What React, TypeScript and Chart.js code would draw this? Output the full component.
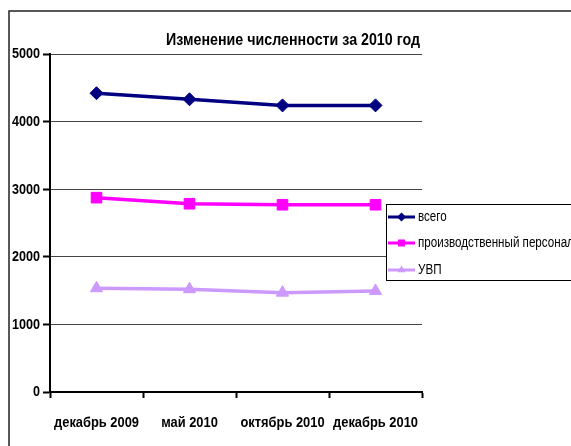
import React, { useEffect, useRef } from "react";
import { Chart, registerables } from "chart.js";

Chart.register(...registerables);

const categories = ["декабрь 2009", "май 2010", "октябрь 2010", "декабрь 2010"];
const totalValues = [4420, 4330, 4240, 4240];
const productionValues = [2875, 2785, 2770, 2770];
const uvpValues = [1535, 1520, 1470, 1495];
const seriesNames = ["всего", "производственный персонал", "УВП"];
const titleText = "Изменение численности за 2010 год";

const FONT = "'Liberation Sans', Arial, sans-serif";
const colors = ["#000080", "#FF00FF", "#CC99FF"];
const styles = ["rectRot", "rect", "triangle"];

function condensed(ctx: any, text: string, x: number, y: number, font: string, sx: number, align: string, baseline: string) {
  ctx.save();
  ctx.font = font;
  ctx.fillStyle = "#000";
  ctx.textAlign = align;
  ctx.textBaseline = baseline;
  ctx.translate(x, y);
  ctx.scale(sx, 1);
  ctx.fillText(text, 0, 0);
  ctx.restore();
}

const decorPlugin = {
  id: "decor",
  beforeDraw(chart: any) {
    const ctx = chart.ctx;
    ctx.save();
    ctx.fillStyle = "#ffffff";
    ctx.fillRect(0, 0, chart.width, chart.height);
    ctx.restore();
  },
  afterDraw(chart: any) {
    const ctx = chart.ctx;
    ctx.save();
    // outer frame
    ctx.strokeStyle = "#222";
    ctx.lineWidth = 1.5;
    ctx.beginPath();
    ctx.moveTo(9, chart.height + 5);
    ctx.lineTo(9, 11);
    ctx.lineTo(chart.width + 5, 11);
    ctx.stroke();
    ctx.restore();
    // title
    condensed(ctx, titleText, 293, 44.5, `bold 16px ${FONT}`, 0.89, "center", "alphabetic");
    // axis labels
    const ys = chart.scales.y;
    ys.ticks.forEach((t: any) => {
      condensed(ctx, String(t.value), 40, ys.getPixelForValue(t.value) + 0.5, `bold 14px ${FONT}`, 0.9, "right", "middle");
    });
    const xs = chart.scales.x;
    xs.ticks.forEach((t: any, i: number) => {
      condensed(ctx, categories[i], xs.getPixelForTick(i), 423, `bold 14px ${FONT}`, 0.92, "center", "middle");
    });
    // legend
    ctx.save();
    const lx = 386.5, ly = 204.5;
    ctx.fillStyle = "#fff";
    ctx.fillRect(lx, ly, 200, 76);
    ctx.strokeStyle = "#000";
    ctx.lineWidth = 1;
    ctx.strokeRect(lx, ly, 200, 76);
    const rows = [217, 243, 270];
    chart.data.datasets.forEach((ds: any, i: number) => {
      const y = rows[i];
      ctx.strokeStyle = ds.borderColor;
      ctx.lineWidth = 3;
      ctx.beginPath();
      ctx.moveTo(388, y);
      ctx.lineTo(415, y);
      ctx.stroke();
      ctx.fillStyle = ds.borderColor;
      const r = 4.5;
      ctx.beginPath();
      if (ds.pointStyle === "rectRot") {
        ctx.moveTo(401.5 - r, y);
        ctx.lineTo(401.5, y - r);
        ctx.lineTo(401.5 + r, y);
        ctx.lineTo(401.5, y + r);
      } else if (ds.pointStyle === "rect") {
        ctx.rect(401.5 - 3.5, y - 3.5, 7, 7);
      } else {
        ctx.moveTo(401.5, y - r);
        ctx.lineTo(401.5 + r * 0.87, y + r * 0.5);
        ctx.lineTo(401.5 - r * 0.87, y + r * 0.5);
      }
      ctx.closePath();
      ctx.fill();
      condensed(ctx, seriesNames[i], 418, y + 0.5, `14px ${FONT}`, 0.83, "left", "middle");
    });
    ctx.restore();
  },
};

export default function App() {
  const ref = useRef<HTMLCanvasElement | null>(null);
  useEffect(() => {
    if (!ref.current) return;
    const values = [totalValues, productionValues, uvpValues];
    const chart = new Chart(ref.current, {
      type: "line",
      data: {
        labels: categories,
        datasets: values.map((v, i) => ({
          label: seriesNames[i],
          data: v,
          borderColor: colors[i],
          backgroundColor: colors[i],
          pointBackgroundColor: colors[i],
          pointBorderColor: colors[i],
          pointStyle: styles[i] as any,
          pointRadius: i === 0 ? 6.5 : i === 1 ? 7.5 : 7,
          pointBorderWidth: 1,
          borderWidth: 3.5,
          tension: 0,
          fill: false,
        })),
      },
      options: {
        responsive: false,
        animation: false,
        devicePixelRatio: 1,
        layout: { padding: { top: 54, right: 149, left: 0, bottom: 0 } },
        plugins: {
          legend: { display: false },
          title: { display: false },
          tooltip: { enabled: false },
        },
        scales: {
          x: {
            type: "category",
            offset: true,
            grid: {
              offset: true,
              drawOnChartArea: false,
              drawTicks: true,
              tickLength: 6,
              tickColor: "#000",
              tickWidth: 2,
            },
            border: { color: "#000", width: 2 },
            ticks: {
              color: "rgba(0,0,0,0)",
              font: { family: FONT, size: 14, weight: "bold" },
              padding: 16,
              maxRotation: 0,
              autoSkip: false,
            },
            afterFit: (s: any) => {
              s.height = 54;
            },
          },
          y: {
            min: 0,
            max: 5000,
            ticks: {
              stepSize: 1000,
              color: "rgba(0,0,0,0)",
              font: { family: FONT, size: 14, weight: "bold" },
              padding: 4,
              callback: (v: any) => String(v),
            },
            grid: {
              color: "#444",
              lineWidth: 1,
              tickLength: 7,
              tickColor: "#000",
              tickWidth: 2,
            },
            border: { color: "#000", width: 2 },
            afterFit: (s: any) => {
              s.width = 50;
            },
          },
        },
      },
      plugins: [decorPlugin],
    });
    return () => chart.destroy();
  }, []);
  return (
    <div style={{ position: "fixed", left: 0, top: 0, width: 571, height: 446, background: "#fff" }}>
      <canvas ref={ref} width={571} height={446} style={{ display: "block" }} />
    </div>
  );
}
